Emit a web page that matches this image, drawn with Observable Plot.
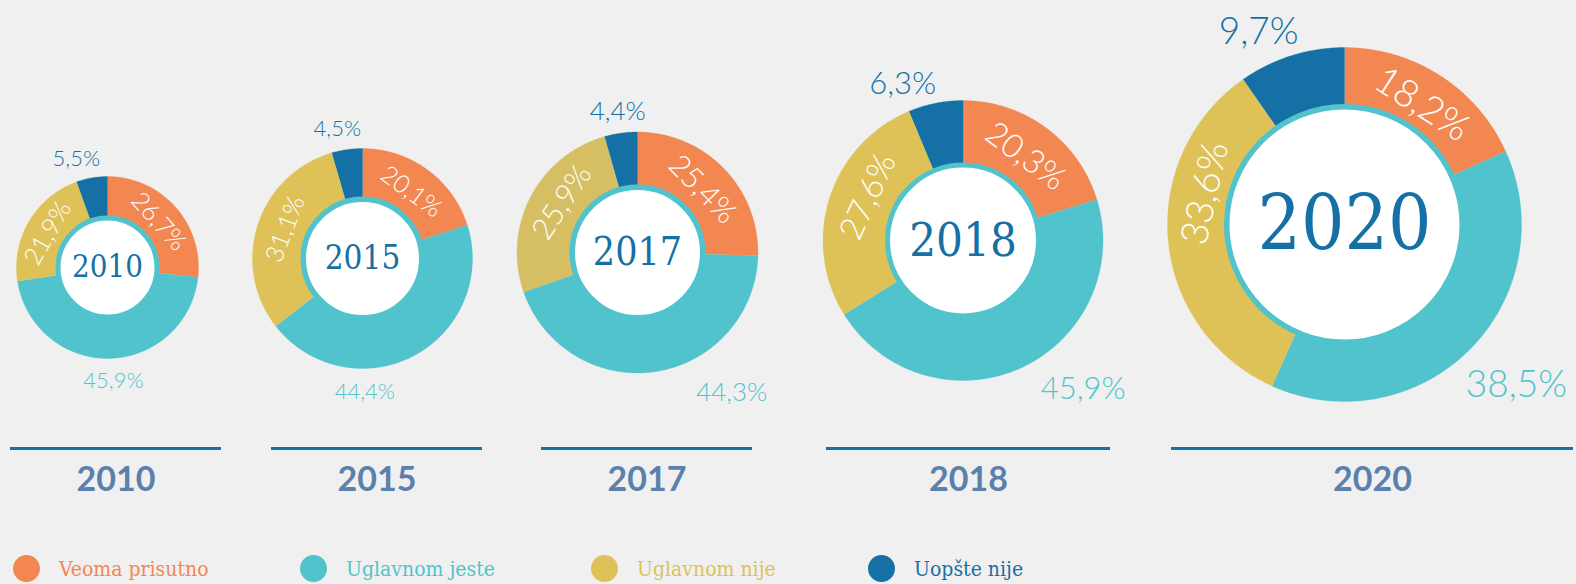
<!DOCTYPE html>
<html><head><meta charset="utf-8">
<script src="https://cdn.jsdelivr.net/npm/d3@7"></script>
<script src="https://cdn.jsdelivr.net/npm/@observablehq/plot@0.6"></script>
<style>
html,body{margin:0;padding:0;background:#f0f0f0;overflow:hidden;}
#chart svg{display:block;}
g[aria-label="center-year"] text{font-stretch:condensed;}
.legend{display:flex;height:29px;padding-top:10px;padding-left:12.5px;align-items:flex-start;font-family:"DejaVu Serif Condensed","DejaVu Serif",serif;font-stretch:condensed;font-size:21px;line-height:28px;}
.item{display:flex;align-items:flex-start;}
.sw{width:27px;height:27px;border-radius:50%;margin-right:19.5px;flex:none;}
</style></head><body>
<div id="chart"></div>
<div class="legend" id="legend"></div>
<script>
// ---- data ----
const years = ["2010", "2015", "2017", "2018", "2020"];
const categories = ["Veoma prisutno", "Uglavnom jeste", "Uglavnom nije", "Uopšte nije"];
const veomaPrisutno = [26.7, 20.1, 25.4, 20.3, 18.2];
const uglavnomJeste = [45.9, 44.4, 44.3, 45.9, 38.5];
const uglavnomNije  = [21.9, 31.1, 25.9, 27.6, 33.6];
const uopsteNije    = [5.5, 4.5, 4.4, 6.3, 9.7];

// ---- styling / layout ----
const colors = ["#f38752", "#51c3cd", "#dec257", "#1571a5"];
const yellowByYear = ["#dec257", "#dec257", "#d6be62", "#dec257", "#dec257"];
const W = 1576, H = 545;
const cx = [107, 362, 637, 962.5, 1344];
const cy = [267, 258, 252, 240, 224];
const rOuter = [91, 110, 120.5, 140, 177];
const rInner = [52, 62, 68, 78, 120.5];
const rWhite = [47, 56.5, 62.5, 73, 115];
const innerFont = [25, 25, 30, 33, 38];
const outerFont = [22, 22, 26, 31, 37];
const centerFont = [31, 33, 39, 47, 76];
const yellowShift = [-1, 3, 6, 7, 18];
const blueAngle = [-16, -11, -8, -21, -24], blueGap = [22, 22, 21.5, 28, 34];
const tealAngle = [177, 179, 146, 141, 133], tealGap = [23, 23, 48, 51, 58];
const lineX1 = [10, 271, 541, 826, 1171], lineX2 = [221, 482, 752, 1110, 1573];
const lineY = 448, yearY = 480;
const legendWidths = [287, 291, 277, 200];

const seriesValues = [veomaPrisutno, uglavnomJeste, uglavnomNije, uopsteNije];
const fmt = v => v.toFixed(1).replace(".", ",") + "%";
const deg = a => a * 180 / Math.PI;
const rad = d => d * Math.PI / 180;

const pie = d3.pie().sort(null).value(d => d.value);
const slices = [];
years.forEach((yr, i) => {
  const vals = categories.map((c, k) => ({k, value: seriesValues[k][i]}));
  pie(vals).forEach(a => slices.push({i, k: a.data.k, value: a.data.value, a0: a.startAngle, a1: a.endAngle}));
});

const pts = [];
slices.forEach((s, j) => {
  const color = s.k === 2 ? yellowByYear[s.i] : colors[s.k];
  const n = Math.max(2, Math.ceil((s.a1 - s.a0) / (Math.PI / 360)));
  const ro = rOuter[s.i], ri = rInner[s.i] - 1;
  for (let t = 0; t <= n; t++) { const a = s.a0 + (s.a1 - s.a0) * t / n; pts.push({id: j, color, x: cx[s.i] + ro * Math.sin(a), y: cy[s.i] - ro * Math.cos(a)}); }
  for (let t = n; t >= 0; t--) { const a = s.a0 + (s.a1 - s.a0) * t / n; pts.push({id: j, color, x: cx[s.i] + ri * Math.sin(a), y: cy[s.i] - ri * Math.cos(a)}); }
});

const innerLabels = [], outerLabels = [];
slices.forEach(s => {
  const i = s.i;
  if (s.k === 0 || s.k === 2) {
    let m = deg((s.a0 + s.a1) / 2) + (s.k === 2 ? yellowShift[i] : 0);
    if (m > 180) m -= 360;
    const r = (rInner[i] + rOuter[i]) / 2 * 0.96;
    innerLabels.push({x: cx[i] + r * Math.sin(rad(m)), y: cy[i] - r * Math.cos(rad(m)), rot: m, text: fmt(s.value), fs: innerFont[i]});
  } else {
    const ang = s.k === 3 ? blueAngle[i] : tealAngle[i];
    const r = rOuter[i] + (s.k === 3 ? blueGap[i] : tealGap[i]);
    outerLabels.push({x: cx[i] + r * Math.sin(rad(ang)), y: cy[i] - r * Math.cos(rad(ang)), text: fmt(s.value), fs: outerFont[i], color: colors[s.k]});
  }
});

const centers = years.map((yr, i) => ({yr, x: cx[i], y: cy[i], r: (rInner[i] + rWhite[i]) / 2, sw: rInner[i] - rWhite[i], fs: centerFont[i]}));
const bottom = years.map((yr, i) => ({yr, x1: lineX1[i], x2: lineX2[i], xm: (lineX1[i] + lineX2[i]) / 2, y: lineY, ty: yearY}));

const chart = Plot.plot({
  width: W, height: H, margin: 0,
  x: {domain: [0, W], range: [0, W], axis: null},
  y: {domain: [0, H], range: [0, H], axis: null},
  r: {type: "identity"},
  color: {type: "identity"},
  style: {background: "#f0f0f0", overflow: "visible"},
  marks: [
    Plot.line(pts, {x: "x", y: "y", z: "id", fill: "color", stroke: "color", strokeWidth: 0.3, curve: "linear"}),
    Plot.dot(centers, {x: "x", y: "y", r: "r", fill: "white", stroke: colors[1], strokeWidth: d => d.sw}),
    Plot.text(centers, {x: "x", y: "y", text: "yr", fontSize: "fs", fill: "#1570a5", fontFamily: "'DejaVu Serif Condensed','DejaVu Serif',serif", lineAnchor: "middle", ariaLabel: "center-year"}),
    Plot.text(innerLabels, {x: "x", y: "y", text: "text", rotate: "rot", fontSize: "fs", fill: "white", fontFamily: "Lato, sans-serif", fontWeight: 300, lineAnchor: "middle"}),
    Plot.text(outerLabels, {x: "x", y: "y", text: "text", fontSize: "fs", fill: "color", fontFamily: "Lato, sans-serif", fontWeight: 300, lineAnchor: "middle"}),
    Plot.ruleY(bottom, {y: "y", x1: "x1", x2: "x2", stroke: "#1570a6", strokeWidth: 3}),
    Plot.text(bottom, {x: "xm", y: "ty", text: "yr", fontSize: 34, fontWeight: 700, fill: "#5b80ab", fontFamily: "Lato, sans-serif", lineAnchor: "middle"})
  ]
});
document.getElementById("chart").append(chart);

const legend = document.getElementById("legend");
categories.forEach((c, k) => {
  const it = document.createElement("div");
  it.className = "item";
  it.style.width = legendWidths[k] + "px";
  const sw = document.createElement("span");
  sw.className = "sw";
  sw.style.background = colors[k];
  const tx = document.createElement("span");
  tx.textContent = c;
  tx.style.color = colors[k];
  it.append(sw, tx);
  legend.append(it);
});
</script>
</body></html>
